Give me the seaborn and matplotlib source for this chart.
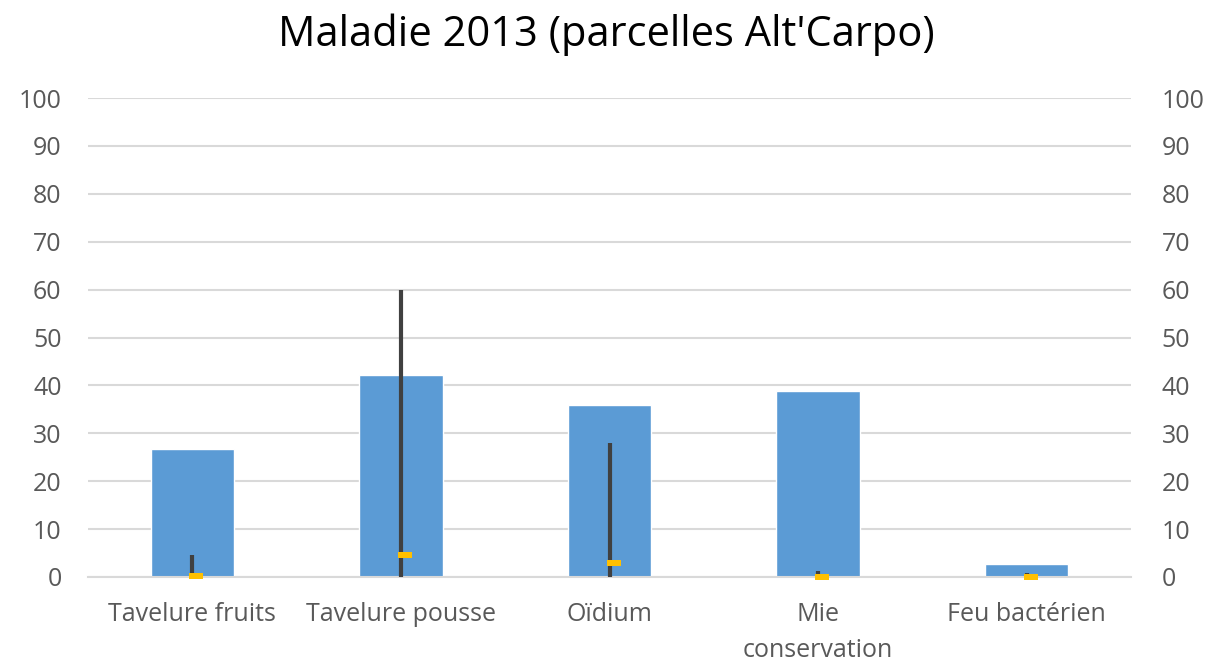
import matplotlib
matplotlib.use("Agg")
import matplotlib.pyplot as plt
import seaborn as sns
import pandas as pd

categories = ["Tavelure fruits", "Tavelure pousse", "Oïdium", "Mie\nconservation", "Feu bactérien"]
bar_values = [26.8, 42.2, 36.0, 38.9, 2.7]
high_values = [4.6, 60.0, 28.0, 1.2, 0.8]
low_values = [0.0, 0.0, 0.0, 0.0, 0.0]
mean_values = [0.3, 4.5, 3.0, 0.0, 0.0]
yticks = [0, 10, 20, 30, 40, 50, 60, 70, 80, 90, 100]

sns.set_theme(style="white")
plt.rcParams['font.family'] = ['Open Sans', 'DejaVu Sans']

df = pd.DataFrame({"cat": categories, "val": bar_values})

fig = plt.figure(figsize=(12.13, 6.68), dpi=100)
ax = fig.add_axes([88/1213, 1 - 577/668, (1131-88)/1213, (577-98)/668])

sns.barplot(data=df, x="cat", y="val", color="#5B9BD5", saturation=1, width=0.4, ax=ax, zorder=2)
xs = list(range(len(categories)))
ax.vlines(xs, low_values, high_values, color="#404040", linewidth=3, zorder=3)
rect = [(-1.1, -0.5), (1.1, -0.5), (1.1, 0.5), (-1.1, 0.5), (-1.1, -0.5)]
ax.scatter([x + 0.02 for x in xs], mean_values, marker=rect, s=95, color="#FFC000", zorder=4,
           linewidths=0, clip_on=False)

ax.set_ylim(0, 100)
ax.set_xlim(-0.5, len(categories) - 0.5)
ax.set_yticks(yticks)
ax.yaxis.grid(True, color="#D9D9D9", linewidth=1.5, zorder=0)
ax.set_axisbelow(True)
for s in ["top", "right", "left"]:
    ax.spines[s].set_visible(False)
ax.spines["bottom"].set_color("#D9D9D9")
ax.spines["bottom"].set_linewidth(1.5)
ax.set_xlabel("")
ax.set_ylabel("")
ax.tick_params(axis="y", colors="#595959", labelsize=18, length=0, pad=19)
ax.tick_params(axis="x", colors="#595959", labelsize=18, length=0, pad=18)
for lbl in ax.get_xticklabels():
    lbl.set_linespacing(1.6)

ax2 = ax.twinx()
ax2.set_ylim(0, 100)
ax2.set_yticks(yticks)
for s in ["top", "right", "left", "bottom"]:
    ax2.spines[s].set_visible(False)
ax2.tick_params(axis="y", colors="#595959", labelsize=18, length=0, pad=22)
ax2.grid(False)

fig.suptitle("Maladie 2013 (parcelles Alt'Carpo)", fontsize=30, color="#000000", y=0.98)

fig.savefig("out.png", dpi=100)
